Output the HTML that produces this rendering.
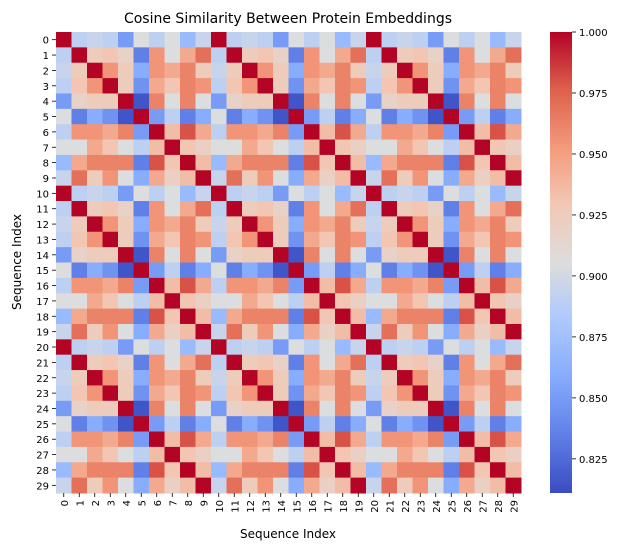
<!DOCTYPE html>
<html><head><meta charset="utf-8"><style>
body{margin:0;background:#fff;font-family:"Liberation Sans","DejaVu Sans",sans-serif;}
svg text{font-family:"DejaVu Sans","Liberation Sans",sans-serif;}
</style></head><body>
<svg id="chart" width="632" height="551" xmlns="http://www.w3.org/2000/svg">
<text x="288" y="23" text-anchor="middle" font-size="14">Cosine Similarity Between Protein Embeddings</text>
<g id="cells"></g>
<g id="yticks"></g>
<g id="xticks"></g>
<text x="288" y="538" text-anchor="middle" font-size="12">Sequence Index</text>
<text transform="translate(21,262) rotate(-90)" text-anchor="middle" font-size="12">Sequence Index</text>
<defs><linearGradient id="cbgrad" x1="0" y1="1" x2="0" y2="0"></linearGradient></defs>
<rect x="550" y="32" width="22" height="461" fill="url(#cbgrad)"/>
<g id="cbticks"></g>
</svg>
<script>
const r0=[1.000,0.890,0.895,0.890,0.850,0.905,0.890,0.905,0.870,0.895];
const r1=[0.890,1.000,0.925,0.930,0.918,0.835,0.955,0.905,0.945,0.970];
const r2=[0.895,0.925,1.000,0.955,0.925,0.860,0.955,0.945,0.962,0.925];
const r3=[0.890,0.930,0.955,1.000,0.925,0.845,0.945,0.930,0.962,0.955];
const r4=[0.850,0.918,0.925,0.925,1.000,0.815,0.962,0.905,0.962,0.905];
const r5=[0.905,0.835,0.860,0.845,0.815,1.000,0.850,0.890,0.835,0.860];
const r6=[0.890,0.955,0.955,0.945,0.962,0.850,1.000,0.935,0.980,0.945];
const r7=[0.905,0.905,0.945,0.930,0.905,0.890,0.935,1.000,0.930,0.920];
const r8=[0.870,0.945,0.962,0.962,0.962,0.835,0.980,0.930,1.000,0.935];
const r9=[0.895,0.970,0.925,0.955,0.905,0.860,0.945,0.920,0.935,1.000];
const F0=[...r0,...r0,...r0], F1=[...r1,...r1,...r1], F2=[...r2,...r2,...r2], F3=[...r3,...r3,...r3], F4=[...r4,...r4,...r4];
const F5=[...r5,...r5,...r5], F6=[...r6,...r6,...r6], F7=[...r7,...r7,...r7], F8=[...r8,...r8,...r8], F9=[...r9,...r9,...r9];
const rows=[F0,F1,F2,F3,F4,F5,F6,F7,F8,F9,F0,F1,F2,F3,F4,F5,F6,F7,F8,F9,F0,F1,F2,F3,F4,F5,F6,F7,F8,F9];
const labels=Array.from({length:30},(_,i)=>String(i));
const cbTicks=[0.825,0.850,0.875,0.900,0.925,0.950,0.975,1.000];
const vmin=0.811, vmax=1.0;

const X0=56,X1=521,Y0=32,Y1=493,N=30;
const cw=(X1-X0)/N, ch=(Y1-Y0)/N;
const xs=j=>X0+j*cw, ys=i=>Y0+i*ch;
const stops=[[0,[58,76,193]],[0.125,[95,127,232]],[0.25,[134,171,253]],[0.375,[173,201,253]],[0.5,[221,221,221]],[0.625,[242,200,180]],[0.75,[244,154,123]],[0.875,[222,96,77]],[1,[180,4,38]]];
function cmap(v){let t=Math.max(0,Math.min(1,(v-vmin)/(vmax-vmin)));
 for(let k=1;k<stops.length;k++){if(t<=stops[k][0]){const a=stops[k-1],b=stops[k];const f=(t-a[0])/(b[0]-a[0]);
 return 'rgb('+a[1].map((c,q)=>Math.round(c+(b[1][q]-c)*f)).join(',')+')';}}return 'rgb(180,4,38)';}
const NS='http://www.w3.org/2000/svg';
function mk(tag,attrs,parent){const e=document.createElementNS(NS,tag);for(const k in attrs)e.setAttribute(k,attrs[k]);parent.appendChild(e);return e;}
const cells=document.getElementById('cells');
rows.forEach((row,i)=>row.forEach((v,j)=>{
 const r=mk('rect',{x:xs(j),y:ys(i),width:cw+0.5,height:ch+0.5,fill:cmap(v)},cells);
 
 
}));
const yt=document.getElementById('yticks'), xt=document.getElementById('xticks');
labels.forEach((l,i)=>{
 const cy=ys(i)+ch/2;
 mk('line',{x1:X0-4,x2:X0,y1:cy,y2:cy,stroke:'#000','stroke-width':0.8},yt);
 const t=mk('text',{x:X0-7,y:cy+4,'text-anchor':'end','font-size':10},yt);t.textContent=l;
 
 
 const cx=xs(i)+cw/2;
 mk('line',{x1:cx,x2:cx,y1:Y1,y2:Y1+4,stroke:'#000','stroke-width':0.8},xt);
 const u=mk('text',{transform:'translate('+(cx+4)+','+(Y1+7)+') rotate(-90)','text-anchor':'end','font-size':10},xt);u.textContent=l;
 
 
});
const g=document.getElementById('cbgrad');
for(let k=0;k<=40;k++){const v=vmin+(vmax-vmin)*k/40;mk('stop',{offset:(k/40),'stop-color':cmap(v)},g);}
const cbt=document.getElementById('cbticks');
const cby=v=>Y1-(v-vmin)/(vmax-vmin)*(Y1-Y0);
cbTicks.forEach(v=>{const y=cby(v);
 mk('line',{x1:572,x2:576,y1:y,y2:y,stroke:'#000','stroke-width':0.8},cbt);
 const t=mk('text',{x:579,y:y+4,'font-size':10},cbt);t.textContent=v.toFixed(3);
 
 
});
</script>
</body></html>
